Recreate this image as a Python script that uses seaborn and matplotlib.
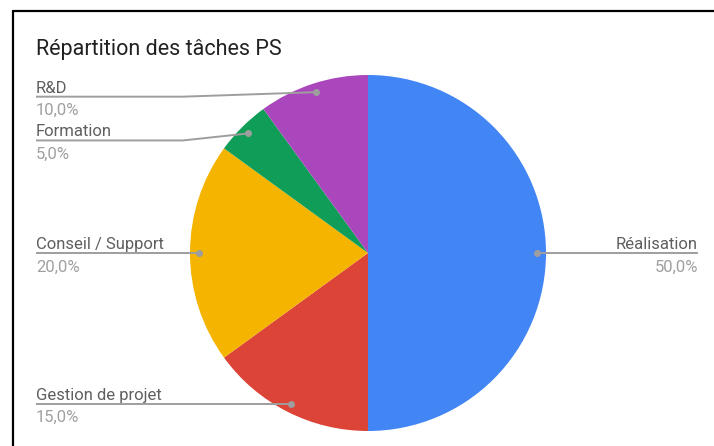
import numpy as np
import matplotlib
matplotlib.use("Agg")
import matplotlib.pyplot as plt
import seaborn as sns

# Données (ordre horaire depuis le haut)
TITRE = "Répartition des tâches PS"
TACHES = ["Réalisation", "Gestion de projet", "Conseil / Support", "Formation", "R&D"]
PARTS = [50.0, 15.0, 20.0, 5.0, 10.0]
COULEURS = ["#4285F4", "#DB4437", "#F4B400", "#0F9D58", "#AB47BC"]

W, H = 714, 446
CX, CY, R = 368, 253, 178          # centre et rayon en pixels (depuis le haut)
DECALAGE_LIGNE = {"R&D": 4.5, "Formation": 7}   # étiquettes un peu décalées vers le bas


def py(y):
    """Convertit une ordonnée pixel (depuis le haut) en ordonnée de données."""
    return H - y


def main():
    sns.set_theme(style="white")
    plt.rcParams["font.family"] = ["Roboto", "DejaVu Sans"]

    fig = plt.figure(figsize=(W / 100, H / 100), dpi=100)
    ax = fig.add_axes([0, 0, 1, 1])

    wedges, _ = ax.pie(PARTS, colors=COULEURS, startangle=90, counterclock=False,
                       center=(CX, py(CY)), radius=R,
                       wedgeprops={"linewidth": 0})
    # pie() impose ses propres limites : on remet le repère en pixels
    ax.set_xlim(0, W)
    ax.set_ylim(0, H)
    ax.set_aspect("equal")
    ax.axis("off")

    gris_ligne = "#9e9e9e"
    for w, nom, part in zip(wedges, TACHES, PARTS):
        ang = np.deg2rad((w.theta1 + w.theta2) / 2)
        dx = CX + 0.95 * R * np.cos(ang)
        dy = CY - 0.95 * R * np.sin(ang)
        ly = dy + DECALAGE_LIGNE.get(nom, 0)
        if dx < CX:
            xs, ys = [36, 183, dx], [ly, ly, dy]
            if abs(ly - dy) < 0.5:
                xs, ys = [36, dx], [ly, dy]
            tx, ha = 36, "left"
        else:
            xs, ys = [dx, 698], [dy, ly]
            tx, ha = 698, "right"
        ax.plot(xs, [py(v) for v in ys], color=gris_ligne, lw=1.4,
                solid_capstyle="butt", zorder=3)
        ax.plot([dx], [py(dy)], "o", color=gris_ligne, ms=4, zorder=4)
        ax.text(tx, py(ly - 4), nom, ha=ha, va="baseline", fontsize=12,
                color="#5f5f5f")
        ax.text(tx, py(ly + 18.5), f"{part:.1f}%".replace(".", ","), ha=ha,
                va="baseline", fontsize=12, color="#a0a0a0")

    ax.text(36, py(55), TITRE, ha="left", va="baseline", fontsize=15.5,
            color="#212121")

    # cadre noir (haut et gauche)
    ax.plot([12.5, W], [py(10.8), py(10.8)], color="black", lw=1.6,
            solid_capstyle="butt")
    ax.plot([12.8, 12.8], [py(10), 0], color="black", lw=1.6,
            solid_capstyle="butt")

    fig.savefig("out.png", dpi=100, facecolor="white")


if __name__ == "__main__":
    main()
